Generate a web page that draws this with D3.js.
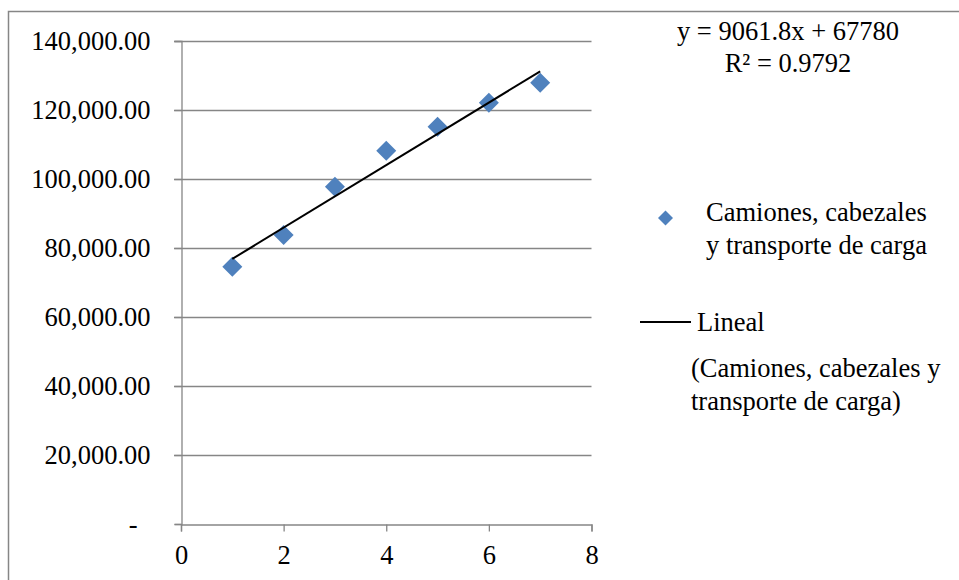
<!DOCTYPE html>
<html>
<head>
<meta charset="utf-8">
<script src="https://cdn.jsdelivr.net/npm/d3@7"></script>
<style>
  html, body { margin: 0; padding: 0; background: #fff; }
  svg, svg text { font-family: "Liberation Serif", Tinos, "Times New Roman", Times, serif !important; }
</style>
</head>
<body>
<svg id="chart" width="959" height="580"></svg>
<script>
// ---- Data ----
const xValues = [1, 2, 3, 4, 5, 6, 7];
const yValues = [74580, 83770, 97770, 108210, 115170, 122120, 127920];
const seriesName = ["Camiones, cabezales", "y transporte de carga"];
const trendName = ["Lineal"];
const trendNameSub = ["(Camiones, cabezales y", "transporte de carga)"];
const trendCoef = [9061.8, 67780]; // slope, intercept
const trendLabels = ["y = 9061.8x + 67780", "R\u00B2 = 0.9792"];
const xTicks = [0, 2, 4, 6, 8];
const yTicks = [0, 20000, 40000, 60000, 80000, 100000, 120000, 140000];

// ---- Layout ----
const svg = d3.select("#chart");
const W = 959, H = 580;
const plot = { left: 181, right: 591.5, top: 41, bottom: 524 };
const gridColor = "#868686";
const blue = "#4F81BD";
const fs = 26.5;
const serif = '"Liberation Serif", Tinos, "Times New Roman", Times, serif';

const x = d3.scaleLinear().domain([0, 8]).range([plot.left, plot.right]);
const y = d3.scaleLinear().domain([0, 140000]).range([plot.bottom, plot.top]);

// outer border
svg.append("rect")
  .attr("x", 8.5).attr("y", 11.5)
  .attr("width", W).attr("height", H)
  .attr("fill", "none").attr("stroke", gridColor).attr("stroke-width", 1.5);

// gridlines
svg.append("g").selectAll("line").data(yTicks.filter(d => d > 0)).join("line")
  .attr("x1", plot.left - 7).attr("x2", plot.right)
  .attr("y1", d => Math.round(y(d)) + 0.5).attr("y2", d => Math.round(y(d)) + 0.5)
  .attr("stroke", gridColor).attr("stroke-width", 1.3);

// y axis
const yAxis = d3.axisLeft(y).tickValues(yTicks).tickSize(7).tickPadding(24)
  .tickFormat(d => d === 0 ? "-" : d3.format(",.2f")(d));
const gy = svg.append("g").attr("transform", `translate(${plot.left + 0.5},0)`).call(yAxis)
  .attr("font-family", serif).attr("font-size", fs);
gy.selectAll("path.domain").attr("stroke", gridColor).attr("stroke-width", 1.3);
gy.selectAll(".tick line").attr("stroke", gridColor).attr("stroke-width", 1.3);
gy.selectAll(".tick text")
  .attr("fill", "#000")
  .attr("dy", "0.33em")
  .attr("x", d => d === 0 ? -44 : -31);

// x axis
const xAxis = d3.axisBottom(x).tickValues(xTicks).tickSize(7).tickPadding(14);
const gx = svg.append("g").attr("transform", `translate(0,${plot.bottom + 0.5})`).call(xAxis)
  .attr("font-family", serif).attr("font-size", fs);
gx.selectAll("path.domain").attr("stroke", gridColor).attr("stroke-width", 1.3);
gx.selectAll(".tick line").attr("stroke", gridColor).attr("stroke-width", 1.3);
gx.selectAll(".tick text").attr("fill", "#000");

// points (diamonds)
const diamond = (s) => `M0,${-s}L${s},0L0,${s}L${-s},0Z`;
svg.append("g").selectAll("path").data(xValues.map((v, i) => [v, yValues[i]])).join("path")
  .attr("d", diamond(10))
  .attr("transform", d => `translate(${x(d[0])},${y(d[1])})`)
  .attr("fill", blue);

// trendline
const tx = d3.extent(xValues);
svg.append("line")
  .attr("x1", x(tx[0])).attr("y1", y(trendCoef[0] * tx[0] + trendCoef[1]))
  .attr("x2", x(tx[1])).attr("y2", y(trendCoef[0] * tx[1] + trendCoef[1]))
  .attr("stroke", "#000").attr("stroke-width", 2);

const txt = svg.append("g").attr("font-family", serif).attr("font-size", fs).attr("fill", "#000");

// equation labels
txt.append("g").selectAll("text").data(trendLabels).join("text")
  .attr("x", 788).attr("y", (d, i) => 40 + i * 32)
  .attr("text-anchor", "middle")
  .text(d => d);

// legend: series
svg.append("path").attr("d", diamond(7.5))
  .attr("transform", "translate(665.5,218)").attr("fill", blue);
txt.append("g").selectAll("text").data(seriesName).join("text")
  .attr("x", 706).attr("y", (d, i) => 221 + i * 33)
  .text(d => d);

// legend: trendline
svg.append("line").attr("x1", 640).attr("x2", 691).attr("y1", 322).attr("y2", 322)
  .attr("stroke", "#000").attr("stroke-width", 2);
txt.append("text").attr("x", 697).attr("y", 331).text(trendName[0]);
txt.append("g").selectAll("text").data(trendNameSub).join("text")
  .attr("x", 691).attr("y", (d, i) => 377 + i * 33)
  .text(d => d);
</script>
</body>
</html>
